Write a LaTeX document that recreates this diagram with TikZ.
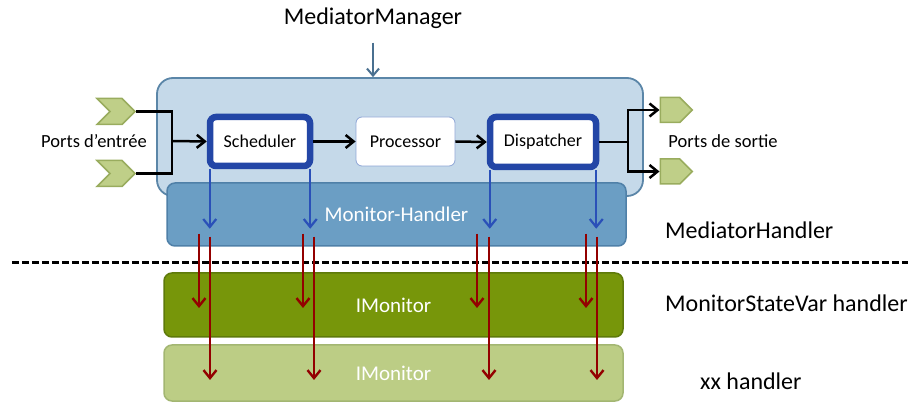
\documentclass[tikz,border=0pt]{standalone}
\usepackage{fontspec}
\setmainfont{Carlito}
\usepackage{tikz}
\usetikzlibrary{positioning, arrows.meta, shapes.symbols, calc}

\definecolor{mmfill}{HTML}{C5D9E9}
\definecolor{mmborder}{HTML}{5B86A8}
\definecolor{mhfill}{HTML}{6B9EC4}
\definecolor{mhborder}{HTML}{4F80A8}
\definecolor{procborder}{HTML}{2346A6}
\definecolor{thinborder}{HTML}{8FA6D6}
\definecolor{portfill}{HTML}{BFCF88}
\definecolor{portborder}{HTML}{99AC5E}
\definecolor{imfill}{HTML}{77960A}
\definecolor{imborder}{HTML}{5E7A0A}
\definecolor{xxfill}{HTML}{BCCD85}
\definecolor{xxborder}{HTML}{A3B672}
\definecolor{sigblue}{HTML}{2A50B8}
\definecolor{imred}{HTML}{930000}
\definecolor{mmarrowc}{HTML}{4A7090}

\begin{document}
\begin{tikzpicture}[
    x=1pt, y=-1pt,
    every node/.style={align=center, inner sep=0pt},
    layer/.style={rectangle, draw=#1border, fill=#1fill, line width=1.5pt, rounded corners=8pt,
        text=white, font=\fontsize{21}{24}\selectfont},
    proc/.style={rectangle, draw=procborder, fill=white, line width=6.5pt, rounded corners=6pt,
        font=\fontsize{18}{21}\selectfont},
    plainproc/.style={rectangle, draw=thinborder, fill=white, line width=0.8pt, rounded corners=6pt,
        font=\fontsize{18}{21}\selectfont},
    inport/.style={signal, signal to=east, signal from=west, draw=portborder, fill=portfill,
        line width=1.5pt, minimum width=38pt, minimum height=26pt},
    outport/.style={signal, signal to=east, draw=portborder, fill=portfill,
        line width=1.5pt, minimum width=32pt, minimum height=25pt},
    label/.style={font=\fontsize{18.5}{21}\selectfont},
    biglabel/.style={font=\fontsize{24}{28}\selectfont},
    flow/.style={-{Straight Barb[length=8pt,width=13pt]}, line width=2.5pt},
    line/.style={line width=2.5pt},
    sigarrow/.style={-{Straight Barb[length=8pt,width=13pt]}, sigblue, line width=2.2pt},
    imarrow/.style={-{Straight Barb[length=8pt,width=13pt]}, imred, line width=2.4pt}
]
    \useasboundingbox (0,0) rectangle (908,403);

    % mediator manager and its handler
    \node[biglabel] (mmlabel) at (373,18) {MediatorManager};
    \node[rectangle, draw=mmborder, fill=mmfill, line width=1.8pt, rounded corners=16pt,
        minimum width=486pt, minimum height=118pt] (mm) at (400,137) {};
    \node[layer=mh, minimum width=459pt, minimum height=63pt] (mh) at (396.5,214.5) {Monitor-Handler};

    \node[proc, minimum width=100pt, minimum height=49pt] (sched) at (260,141.5) {Scheduler};
    \node[plainproc, minimum width=99pt, minimum height=49pt] (proc) at (405.5,141.5) {Processor};
    \node[proc, minimum width=106pt, minimum height=50pt] (disp) at (543,142) {Dispatcher};

    % ports
    \node[inport] (in1) at (116,111.5) {};
    \node[inport] (in2) at (116,173.5) {};
    \node[outport] (out1) at (670,110) {};
    \node[outport] (out2) at (670,171.5) {};
    \node[label] (inlabel) at (94,141) {Ports d’entrée};
    \node[label] (outlabel) at (723,141) {Ports de sortie};

    \coordinate (injoin) at (172,141);
    \coordinate (outjoin) at (628,142);

    \draw[mmarrowc, -{Straight Barb[length=7pt,width=12pt]}, line width=2pt]
        ([yshift=-14pt]mmlabel.south) -- (mmlabel.south |- mm.north);
    \draw[line] (in1.east) -| (injoin);
    \draw[line] (in2.east) -| (injoin);
    \draw[flow] (injoin) -- (sched.west);
    \draw[flow] (sched.east) -- (proc.west);
    \draw[flow] (proc.east) -- (disp.west);
    \draw[line] (disp.east) -- (outjoin);
    \draw[flow] (outjoin) |- (out1.west);
    \draw[flow] (outjoin) |- (out2.west);

    % monitor layers
    \draw[line width=3pt, dash pattern=on 7pt off 3pt] (12,263) -- (908,263);
    \node[layer=im, minimum width=459pt, minimum height=64pt] (im1) at (393.5,305) {IMonitor};
    \node[layer=xx, minimum width=459pt, minimum height=56pt] (im2) at (393.5,373) {IMonitor};

    \node[biglabel, anchor=west] (mhlabel) at (665,230) {MediatorHandler};
    \node[biglabel, anchor=west] (svlabel) at (665,303) {MonitorStateVar handler};
    \node[biglabel, anchor=west] (xxlabel) at (700,381) {xx handler};

    % signals towards the handler
    \draw[sigarrow] ([xshift=3pt]sched.south west) -- ($([xshift=3pt]sched.south west |- mh.south)+(0,18pt)$);
    \draw[sigarrow] ([xshift=-3pt]sched.south east) -- ($([xshift=-3pt]sched.south east |- mh.south)+(0,18pt)$);
    \draw[sigarrow] ([xshift=3pt]disp.south west) -- ($([xshift=3pt]disp.south west |- mh.south)+(0,18pt)$);
    \draw[sigarrow] ([xshift=-3pt]disp.south east) -- ($([xshift=-3pt]disp.south east |- mh.south)+(0,18pt)$);

    % calls into the monitors
    \foreach \xa/\xb in {199/210, 303/314, 477/489, 586/597} {
        \draw[imarrow] ($(\xa,0 |- mh.south)+(0,13pt)$) -- ($(\xa,0 |- im1.center)+(0,-3pt)$);
        \draw[imarrow] ($(\xb,0 |- mh.south)+(0,10pt)$) -- ($(\xb,0 |- im2.center)+(0,-7pt)$);
    }
\end{tikzpicture}
\end{document}
